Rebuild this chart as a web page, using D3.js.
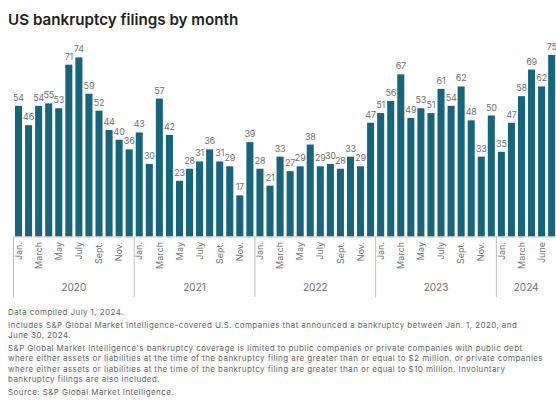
<!DOCTYPE html>
<html>
<head>
<meta charset="utf-8">
<script src="https://cdn.jsdelivr.net/npm/d3@7"></script>
<style>
  body { margin: 0; background: #fff; }
  svg { display: block; font-family: Inter, "Noto Sans", sans-serif; }
</style>
</head>
<body>
<div id="container"></div>
<script>
/* DATA */
const years = ["2020", "2021", "2022", "2023", "2024"];
const filings2020 = [54, 46, 54, 55, 53, 71, 74, 59, 52, 44, 40, 36];
const filings2021 = [43, 30, 57, 42, 23, 28, 31, 36, 31, 29, 17, 39];
const filings2022 = [28, 21, 33, 27, 29, 38, 29, 30, 28, 33, 29, 47];
const filings2023 = [51, 56, 67, 49, 53, 51, 61, 54, 62, 48, 33, 50];
const filings2024 = [35, 47, 58, 69, 62, 75];
// labels shown on every other month
const monthLabels = ["Jan.", "March", "May", "July", "Sept.", "Nov."];
const monthLabels2024 = ["Jan.", "March", "June"];

const footnotes = [
  "Data compiled July 1, 2024.",
  "Includes S&P Global Market Intelligence-covered U.S. companies that announced a bankruptcy between Jan. 1, 2020, and",
  "June 30, 2024.",
  "S&P Global Market Intelligence's bankruptcy coverage is limited to public companies or private companies with public debt",
  "where either assets or liabilities at the time of the bankruptcy filing are greater than or equal to $2 million, or private companies",
  "where either assets or liabilities at the time of the bankruptcy filing are greater than or equal to $10 million. Involuntary",
  "bankruptcy filings are also included.",
  "Source: S&P Global Market Intelligence."
];

/* CONSTANTS */
const width = 556, height = 402;
const baseline = 236.5;
const barColor = "#17657d";
const textGray = "#727272";

// flatten series into one list of months
const byYear = [filings2020, filings2021, filings2022, filings2023, filings2024];
const data = [];
byYear.forEach((vals, yi) => {
  vals.forEach((v, m) => data.push({ i: data.length, year: years[yi], month: m, value: v }));
});

const svg = d3.select("#container")
  .append("svg")
  .attr("width", width)
  .attr("height", height);

// title
svg.append("text")
  .attr("x", 8)
  .attr("y", 25)
  .attr("font-size", 15.2)
  .attr("font-weight", 600)
  .attr("fill", "#222")
  .text("US bankruptcy filings by month");

/* SCALES */
const xScale = d3.scaleBand()
  .domain(data.map(d => d.i))
  .range([13.5, 556.7])
  .paddingInner(0.3)
  .paddingOuter(0.15);

const yScale = d3.scaleLinear()
  .domain([0, 75])
  .range([baseline, 55]);

const gap = xScale.step() * 0.15;

// bars
svg.selectAll("rect.bar")
  .data(data)
  .join("rect")
  .attr("class", "bar")
  .attr("x", d => xScale(d.i))
  .attr("y", d => yScale(d.value))
  .attr("width", xScale.bandwidth())
  .attr("height", d => baseline - yScale(d.value))
  .attr("fill", barColor);

// value labels
svg.selectAll("text.val")
  .data(data)
  .join("text")
  .attr("class", "val")
  .attr("x", d => xScale(d.i) + xScale.bandwidth() / 2)
  .attr("y", d => yScale(d.value) - 5)
  .attr("text-anchor", "middle")
  .attr("font-size", 9)
  .attr("letter-spacing", -0.2)
  .attr("fill", textGray)
  .text(d => d.value);

// baseline
svg.append("line")
  .attr("x1", 13.5).attr("x2", width)
  .attr("y1", baseline + 0.5).attr("y2", baseline + 0.5)
  .attr("stroke", "#c8c8c8");

// year separators + year labels
const yearStarts = years.map(y => data.find(d => d.year === y));
svg.selectAll("line.sep")
  .data(yearStarts)
  .join("line")
  .attr("class", "sep")
  .attr("x1", d => xScale(d.i) - gap)
  .attr("x2", d => xScale(d.i) - gap)
  .attr("y1", baseline)
  .attr("y2", 297)
  .attr("stroke", "#bdbdbd");

svg.selectAll("text.year")
  .data(years)
  .join("text")
  .attr("class", "year")
  .attr("x", y => {
    const pts = data.filter(d => d.year === y);
    const x0 = xScale(pts[0].i) - gap;
    const x1 = Math.min(width, xScale(pts[pts.length - 1].i) + xScale.bandwidth() + gap);
    return (x0 + x1) / 2;
  })
  .attr("y", 291)
  .attr("text-anchor", "middle")
  .attr("font-size", 10)
  .attr("fill", textGray)
  .text(d => d);

// month tick labels, every other month
const ticks = [];
years.forEach(y => {
  const labels = y === "2024" ? monthLabels2024 : monthLabels;
  const first = data.find(d => d.year === y).i;
  labels.forEach((t, k) => ticks.push({ i: first + k * 2, text: t }));
});

svg.selectAll("text.month")
  .data(ticks)
  .join("text")
  .attr("class", "month")
  .attr("transform", d => `translate(${xScale(d.i) + xScale.bandwidth() / 2}, 242) rotate(-90)`)
  .attr("dy", "0.35em")
  .attr("text-anchor", "end")
  .attr("font-size", 9)
  .attr("fill", textGray)
  .text(d => d.text);

// footnotes
const lineY = [315, 328, 338, 351, 361, 372, 382, 395];
svg.selectAll("text.note")
  .data(footnotes)
  .join("text")
  .attr("class", "note")
  .attr("x", 8)
  .attr("y", (d, k) => lineY[k])
  .attr("font-size", 8)
  .attr("letter-spacing", 0.42)
  .attr("fill", "#666")
  .text(d => d);
</script>
</body>
</html>
